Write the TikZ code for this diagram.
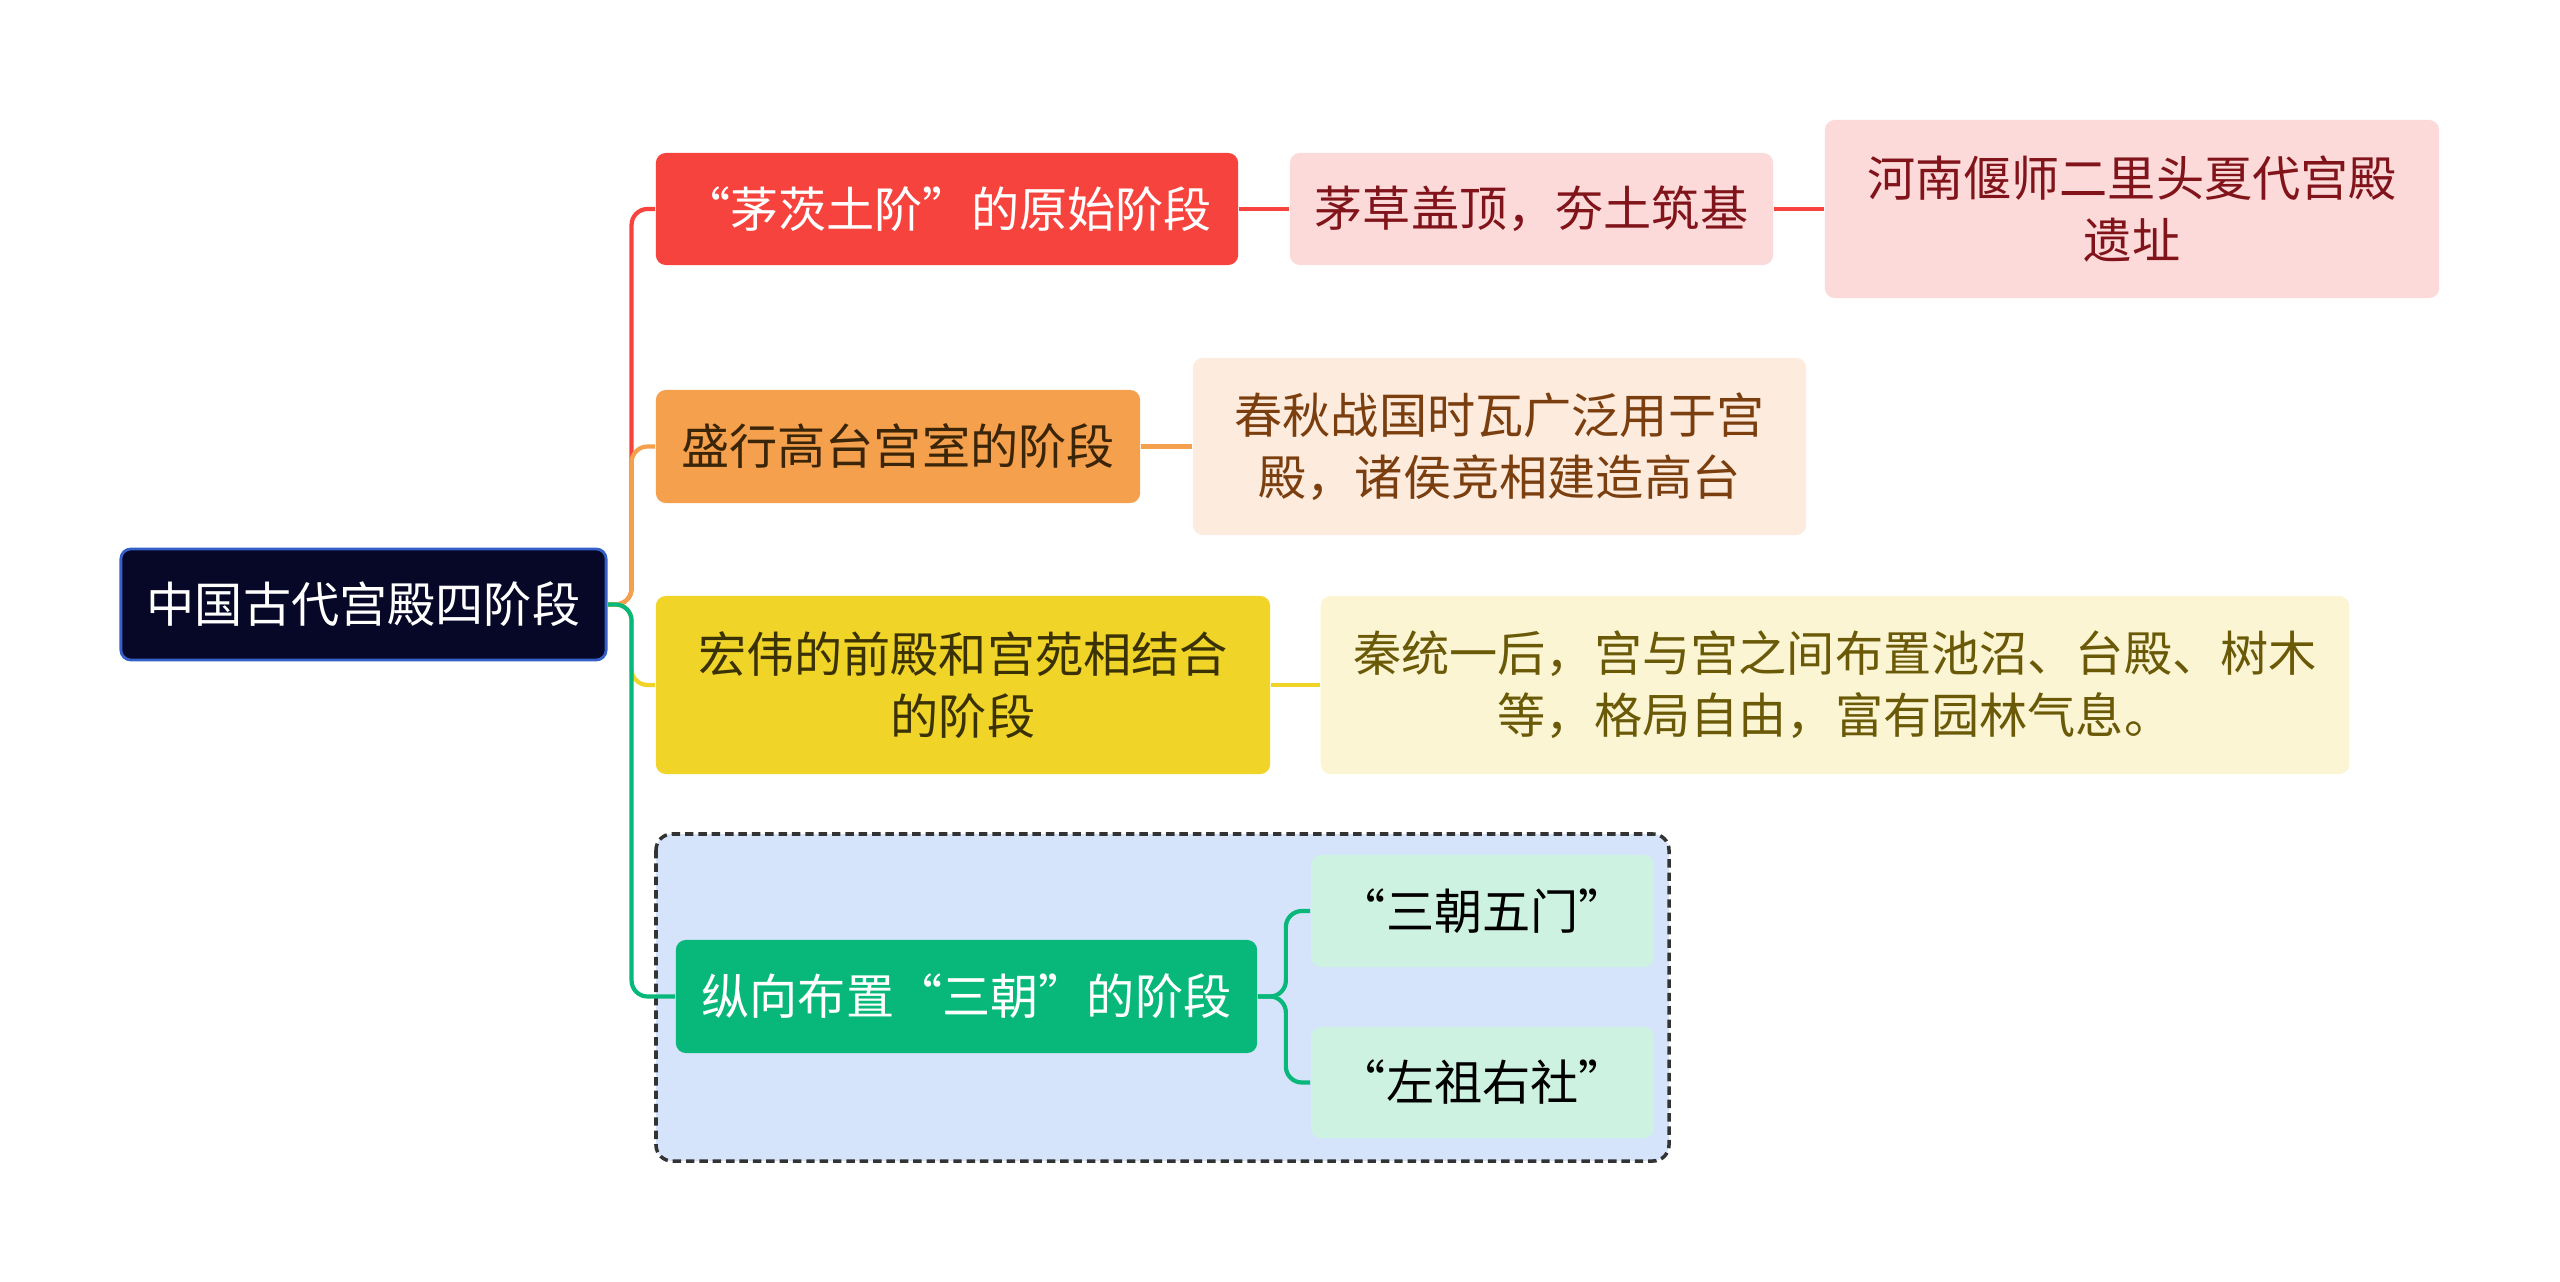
\documentclass[tikz,border=0pt]{standalone}
\usepackage{fontspec}
\setmainfont{Noto Sans CJK SC}
\usepackage{xcolor}
\usepackage{tikz}
\usetikzlibrary{positioning}

\definecolor{rootfill}{HTML}{070728}
\definecolor{rootline}{HTML}{3560C8}
\definecolor{redmain}{HTML}{F7433D}
\definecolor{redlight}{HTML}{FDDADA}
\definecolor{redtext}{HTML}{80141A}
\definecolor{orgmain}{HTML}{F4A04D}
\definecolor{orglight}{HTML}{FDEBDD}
\definecolor{orgtext}{HTML}{7B3E0E}
\definecolor{orgdark}{HTML}{3B2508}
\definecolor{yelmain}{HTML}{F0D428}
\definecolor{yellight}{HTML}{FCF5D3}
\definecolor{yeltext}{HTML}{6A5A08}
\definecolor{yeldark}{HTML}{3A3205}
\definecolor{grnmain}{HTML}{08B87A}
\definecolor{grnlight}{HTML}{CEF2E2}
\definecolor{grpfill}{HTML}{D5E4FB}
\definecolor{grpline}{HTML}{333333}

\begin{document}
\begin{tikzpicture}[x=0.01cm, y=-0.01cm,
  box/.style={rounded corners=0.1cm, inner sep=0pt, align=center,
    font=\fontsize{13.7}{17.6}\selectfont},
  link/.style={line width=1.2pt, rounded corners=0.16cm}]

\useasboundingbox (0,0) rectangle (2560,1282);

% Dashed group round the last branch
\draw[grpline, fill=grpfill, line width=1pt, dash pattern=on 2.4pt off 1.4pt, rounded corners=0.16cm] (656,834) rectangle (1669,1161);

% Root
\node[box, fill=rootfill, draw=rootline, line width=0.8pt, text=white, minimum width=4.85cm, minimum height=1.11cm] (root) at (363.5,604.5) {中国古代宫殿四阶段};

% Stage 1 (red)
\node[box, fill=redmain, text=white, minimum width=5.82cm, minimum height=1.12cm] (red1) at (947,209) {“茅茨土阶”的原始阶段};
\node[box, fill=redlight, text=redtext, minimum width=4.83cm, minimum height=1.12cm] (red2) at (1531.5,209) {茅草盖顶，夯土筑基};
\node[box, fill=redlight, text=redtext, minimum width=6.14cm, minimum height=1.78cm] (red3) at (2132,209) {河南偃师二里头夏代宫殿\\遗址};

% Stage 2 (orange)
\node[box, fill=orgmain, text=orgdark, minimum width=4.84cm, minimum height=1.13cm] (org1) at (898,446.5) {盛行高台宫室的阶段};
\node[box, fill=orglight, text=orgtext, minimum width=6.13cm, minimum height=1.77cm] (org2) at (1499.5,446.5) {春秋战国时瓦广泛用于宫\\殿，诸侯竞相建造高台};

% Stage 3 (yellow)
\node[box, fill=yelmain, text=yeldark, minimum width=6.14cm, minimum height=1.78cm] (yel1) at (963,685) {宏伟的前殿和宫苑相结合\\的阶段};
\node[box, fill=yellight, text=yeltext, minimum width=10.28cm, minimum height=1.78cm] (yel2) at (1835,685) {秦统一后，宫与宫之间布置池沼、台殿、树木\\等，格局自由，富有园林气息。};

% Stage 4 (green)
\node[box, fill=grnmain, text=white, minimum width=5.81cm, minimum height=1.13cm] (grn1) at (966.5,996.5) {纵向布置“三朝”的阶段};
\node[box, fill=grnlight, text=black, minimum width=3.43cm, minimum height=1.12cm] (grn2) at (1482.5,911) {“三朝五门”};
\node[box, fill=grnlight, text=black, minimum width=3.43cm, minimum height=1.11cm] (grn3) at (1482.5,1082.5) {“左祖右社”};

% Connectors
\draw[link, redmain] (root.east) -- ++(24,0) |- (red1.west);
\draw[link, orgmain] (root.east) -- ++(24,0) |- (org1.west);
\draw[link, yelmain] (root.east) -- ++(24,0) |- (yel1.west);
\draw[link, grnmain] (root.east) -- ++(24,0) |- (grn1.west);
\draw[link, redmain] (red1.east) -- (red2.west);
\draw[link, redmain] (red2.east) -- (red3.west);
\draw[link, orgmain] (org1.east) -- (org2.west);
\draw[link, yelmain] (yel1.east) -- (yel2.west);
\draw[link, grnmain] (grn1.east) -- ++(28,0) |- (grn2.west);
\draw[link, grnmain] (grn1.east) -- ++(28,0) |- (grn3.west);

\end{tikzpicture}
\end{document}
